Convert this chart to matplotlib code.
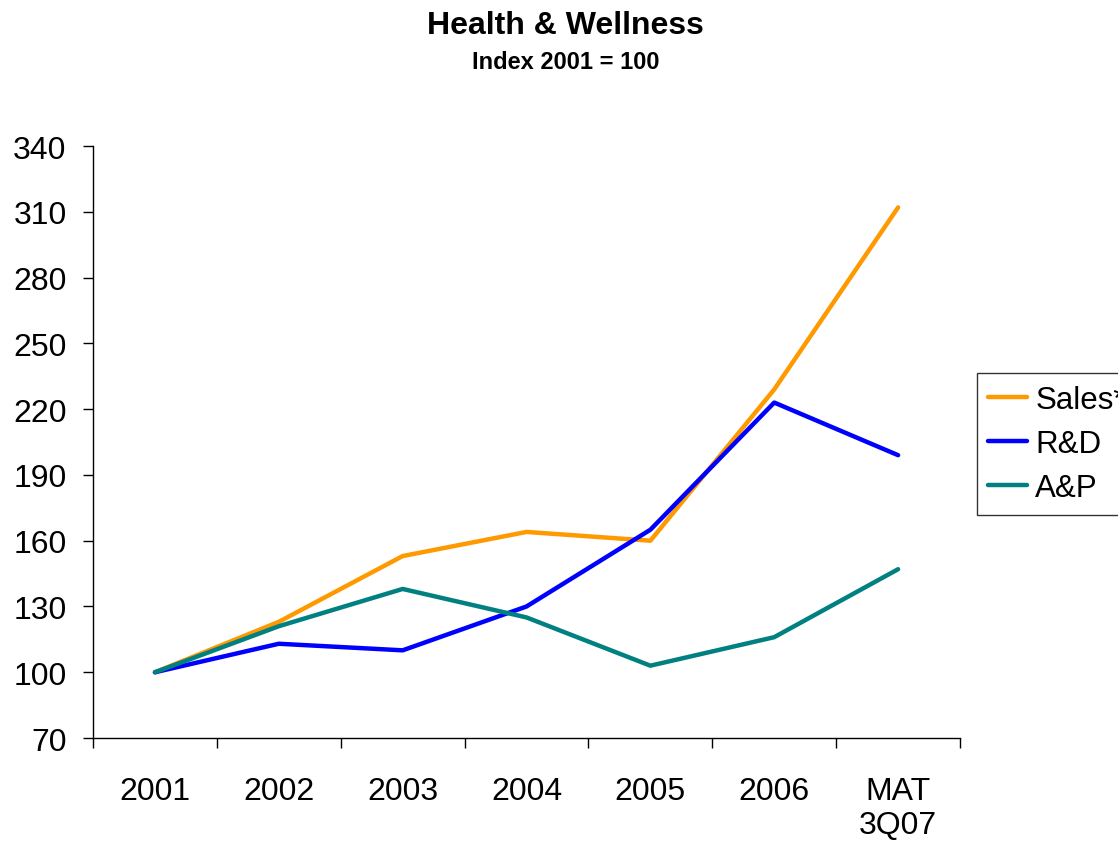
import matplotlib
matplotlib.use("Agg")
import matplotlib.pyplot as plt
import numpy as np

plt.rcParams["font.family"] = ["Liberation Sans", "DejaVu Sans"]

categories = ["2001", "2002", "2003", "2004", "2005", "2006", "MAT\n3Q07"]
sales = [100, 123, 153, 164, 160, 229, 312]
rnd = [100, 113, 110, 130, 165, 223, 199]
anp = [100, 121, 138, 125, 103, 116, 147]
y_ticks = [70, 100, 130, 160, 190, 220, 250, 280, 310, 340]

fig = plt.figure(figsize=(11.18, 8.45), dpi=100)
ax = fig.add_axes([0.0832, 0.1254, 0.7755, 0.7006])

x = np.arange(len(categories))
ax.plot(x, sales, color="#FF9900", linewidth=3.2, label="Sales*", solid_capstyle="round")
ax.plot(x, rnd, color="#0000FF", linewidth=3.2, label="R&D", solid_capstyle="round")
ax.plot(x, anp, color="#008080", linewidth=3.2, label="A&P", solid_capstyle="round")

ax.set_xlim(-0.5, len(categories) - 0.5)
ax.set_ylim(70, 340)
ax.set_yticks(y_ticks)
ax.tick_params(axis="y", direction="out", length=7, width=1, labelsize=23, pad=12)

ax.set_xticks(x)
ax.set_xticklabels(categories, fontsize=23)
ax.set_xticks(np.arange(-0.5, len(categories)), minor=True)
ax.tick_params(axis="x", which="major", length=0, pad=27)
ax.tick_params(axis="x", which="minor", direction="out", length=7, width=1)

for side in ("top", "right"):
    ax.spines[side].set_visible(False)
for side in ("left", "bottom"):
    ax.spines[side].set_linewidth(1)

fig.text(0.506, 0.969, "Health & Wellness", ha="center", va="center",
         fontsize=23, fontweight="bold")
fig.text(0.506, 0.926, "Index 2001 = 100", ha="center", va="center",
         fontsize=17, fontweight="bold")

# legend runs past the right edge like the original slide
leg = fig.legend(loc="upper left", bbox_to_anchor=(0.874, 0.557), fontsize=22.5,
                 frameon=True, fancybox=False, edgecolor="black",
                 handlelength=1.25, handletextpad=0.25, borderpad=0.36,
                 labelspacing=0.46, borderaxespad=0)
leg.get_frame().set_linewidth(1)

fig.savefig("out.png", dpi=100)
